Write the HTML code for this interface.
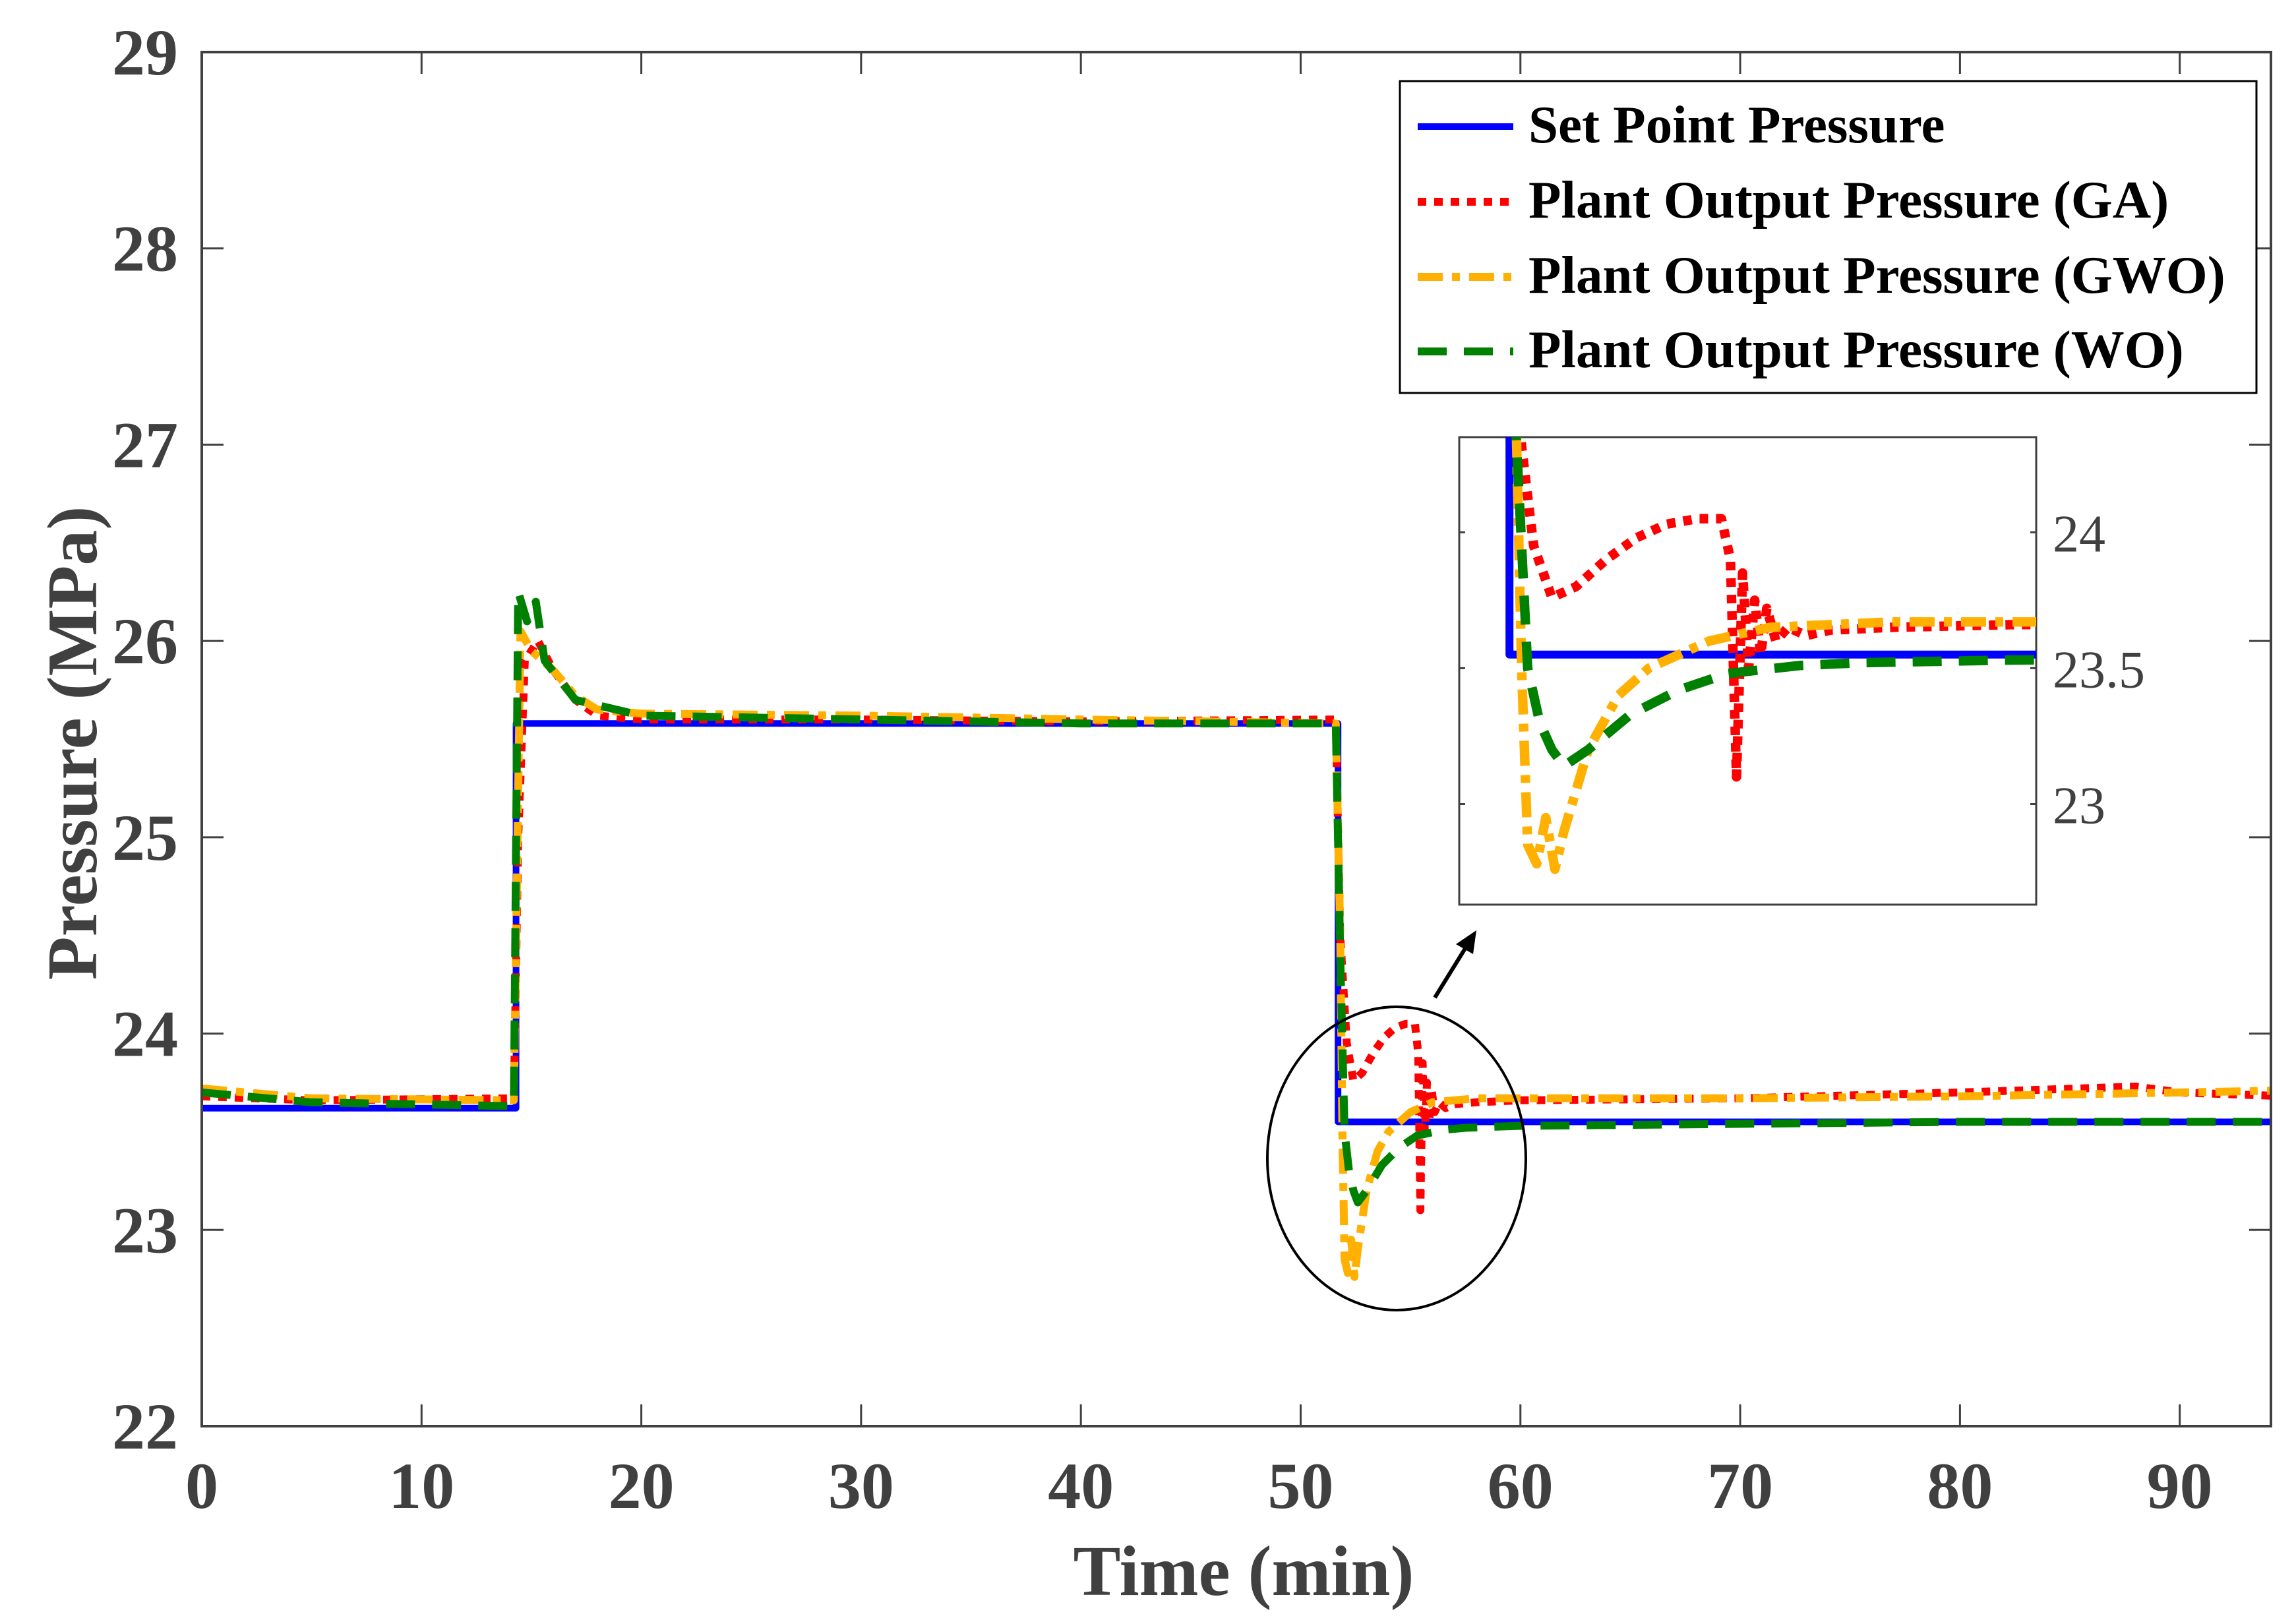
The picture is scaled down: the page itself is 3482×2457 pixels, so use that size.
<!DOCTYPE html>
<html><head><meta charset="utf-8"><style>
html,body{margin:0;padding:0;background:#fff;}
svg{display:block;}
</style></head><body>
<svg id="chart" width="3482" height="2457" viewBox="0 0 3482 2457" xmlns="http://www.w3.org/2000/svg" font-family="Liberation Serif, serif">
<defs>
<clipPath id="mainClip"><rect x="306" y="79" width="3138" height="2084"/></clipPath>
<clipPath id="insetClip"><rect x="2213" y="663" width="875" height="709"/></clipPath>
</defs>
<rect x="0" y="0" width="3482" height="2457" fill="#fff"/>
<g id="mainSeries" clip-path="url(#mainClip)"></g>
<g id="axes"></g>
<rect x="2213" y="663" width="875" height="709" fill="#fff" stroke="#404040" stroke-width="3"/>
<g id="insetSeries" clip-path="url(#insetClip)"></g>
<g id="insetAxes"></g>
<ellipse cx="2118" cy="1757" rx="196" ry="230" fill="none" stroke="#000" stroke-width="4"/>
<g>
<line x1="2176" y1="1513" x2="2226" y2="1432" stroke="#000" stroke-width="6"/>
<polygon points="2239,1411 2208,1432 2234,1447" fill="#000"/>
</g>
<g>
<rect x="2123" y="123" width="1299" height="473" fill="#fff" stroke="#000" stroke-width="3"/>
<g>
<line x1="2150" y1="192" x2="2295" y2="192" stroke="#0000ff" stroke-width="10"/>
<text x="2318" y="216" font-size="81" font-weight="bold" fill="#000">Set Point Pressure</text></g>
<g>
<line x1="2150" y1="306" x2="2295" y2="306" stroke="#ff0000" stroke-width="12" stroke-dasharray="13 12"/>
<text x="2318" y="330" font-size="81" font-weight="bold" fill="#000">Plant Output Pressure (GA)</text></g>
<g>
<line x1="2150" y1="420" x2="2295" y2="420" stroke="#ffb000" stroke-width="12" stroke-dasharray="38 14 12 14"/>
<text x="2318" y="444" font-size="81" font-weight="bold" fill="#000">Plant Output Pressure (GWO)</text></g>
<g>
<line x1="2150" y1="533" x2="2295" y2="533" stroke="#008000" stroke-width="12" stroke-dasharray="44 26"/>
<text x="2318" y="557" font-size="81" font-weight="bold" fill="#000">Plant Output Pressure (WO)</text></g>
</g>
<text x="1886" y="2419" text-anchor="middle" font-size="108" font-weight="bold" fill="#404040">Time (min)</text>
<text x="0" y="0" transform="translate(146,1127) rotate(-90)" text-anchor="middle" font-size="108" font-weight="bold" fill="#404040">Pressure (MPa)</text>
</svg>
<script>
const xTicks = [0,10,20,30,40,50,60,70,80,90];
const yTicks = [22,23,24,25,26,27,28,29];
const insetYTicks = [23,23.5,24];
const spT = [0,14.3,14.3,51.7,51.7,95];
const spV = [23.62,23.62,25.58,25.58,23.55,23.55];
const gaT = [0,5,14.2,14.4,14.7,15.3,16,17,18,20,30,40,51.6,51.8,52.1,52.4,52.8,53.3,53.8,54.3,54.8,55.2,55.35,55.45,55.55,55.65,55.75,55.85,55.95,56.1,56.3,56.6,57,58,60,70,80,88,90,95];
const gaV = [23.68,23.66,23.67,25.0,25.9,26.0,25.85,25.7,25.62,25.6,25.6,25.59,25.6,24.5,23.95,23.76,23.8,23.9,23.98,24.03,24.05,24.05,23.9,23.1,23.85,23.5,23.75,23.55,23.72,23.6,23.65,23.62,23.64,23.65,23.66,23.67,23.7,23.73,23.7,23.68];
const gwoT = [0,5,14.2,14.5,15,16,17,18,20,30,40,51.6,51.8,51.9,52.0,52.15,52.3,52.45,52.6,53,53.5,54,55,56,58,60,70,80,90,95];
const gwoV = [23.72,23.67,23.66,26.05,25.95,25.85,25.72,25.65,25.63,25.62,25.6,25.58,24.5,23.5,22.85,22.78,22.95,22.76,22.9,23.2,23.4,23.5,23.6,23.65,23.67,23.67,23.67,23.68,23.7,23.71];
const woT = [0,5,14.2,14.4,14.8,15.2,15.6,17,20,30,40,51.6,51.8,52.0,52.2,52.4,52.6,53,53.7,54.5,55.3,56.5,57.5,60,70,80,95];
const woV = [23.7,23.65,23.63,26.25,26.1,26.2,25.9,25.7,25.62,25.6,25.58,25.58,24.4,23.5,23.3,23.2,23.14,23.2,23.33,23.42,23.48,23.51,23.52,23.53,23.54,23.55,23.55];

const NS='http://www.w3.org/2000/svg';
const M={x0:306,x1:3444,y0:2163,y1:79,tmin:0,tmax:94.15,vmin:22,vmax:29};
const I={x0:2213,x1:3088,y0:1372,y1:663,tmin:50.87,tmax:60.4,vmin:22.63,vmax:24.35};
function sx(a,t){return a.x0+(t-a.tmin)/(a.tmax-a.tmin)*(a.x1-a.x0);}
function sy(a,v){return a.y0-(v-a.vmin)/(a.vmax-a.vmin)*(a.y0-a.y1);}
function mk(tag,attrs,parent){const e=document.createElementNS(NS,tag);for(const k in attrs)e.setAttribute(k,attrs[k]);parent.appendChild(e);return e;}
const series=[
 {t:spT,v:spV,c:'#0000ff',w:10,d:'',n:'setpoint-line'},
 {t:gaT,v:gaV,c:'#ff0000',w:12,d:'13 12',n:'ga-line'},
 {t:gwoT,v:gwoV,c:'#ffb000',w:12,d:'38 14 12 14',n:'gwo-line'},
 {t:woT,v:woV,c:'#008000',w:12,d:'44 26',n:'wo-line'}];
function draw(a,g,scale,suffix){
 series.forEach(s=>{
  const pts=s.t.map((t,i)=>sx(a,t).toFixed(1)+','+sy(a,s.v[i]).toFixed(1)).join(' ');
  const p=mk('polyline',{points:pts,fill:'none',stroke:s.c,'stroke-width':s.w*scale,'stroke-linejoin':'round'},g);
  if(s.d)p.setAttribute('stroke-dasharray',s.d);
  
  
 });
}
draw(M,document.getElementById('mainSeries'),1,'');
draw(I,document.getElementById('insetSeries'),1.2,'-inset');
const ax=document.getElementById('axes');
const frame=mk('rect',{x:306,y:79,width:3138,height:2084,fill:'none',stroke:'#404040','stroke-width':4},ax);


xTicks.forEach(t=>{
 const x=sx(M,t);
 mk('line',{x1:x,y1:2163,x2:x,y2:2130,stroke:'#404040','stroke-width':3},ax);
 mk('line',{x1:x,y1:79,x2:x,y2:112,stroke:'#404040','stroke-width':3},ax);
 const tx=mk('text',{x:x,y:2287,'text-anchor':'middle','font-size':100,'font-weight':'bold',fill:'#404040'},ax);
 tx.textContent=t;
 
 
});
yTicks.forEach(v=>{
 const y=sy(M,v);
 mk('line',{x1:306,y1:y,x2:339,y2:y,stroke:'#404040','stroke-width':3},ax);
 mk('line',{x1:3444,y1:y,x2:3411,y2:y,stroke:'#404040','stroke-width':3},ax);
 const tx=mk('text',{x:270,y:y+34,'text-anchor':'end','font-size':100,'font-weight':'bold',fill:'#404040'},ax);
 tx.textContent=v;
 
 
});
const ia=document.getElementById('insetAxes');
insetYTicks.forEach(v=>{
 const y=sy(I,v);
 mk('line',{x1:2213,y1:y,x2:2222,y2:y,stroke:'#404040','stroke-width':3},ia);
 mk('line',{x1:3088,y1:y,x2:3079,y2:y,stroke:'#404040','stroke-width':3},ia);
 const tx=mk('text',{x:3113,y:y+29,'font-size':80,fill:'#404040'},ia);
 tx.textContent=v;
 
 
});
</script>
</body></html>
